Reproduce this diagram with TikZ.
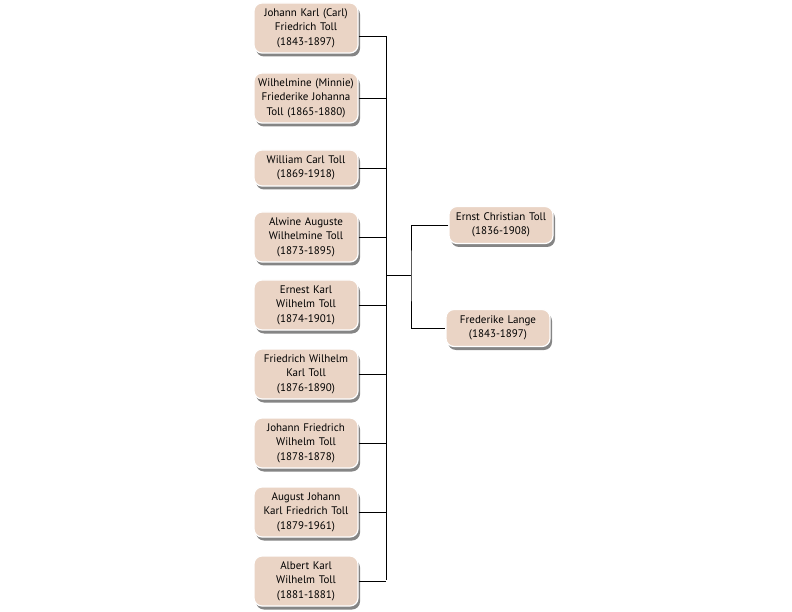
\documentclass[tikz,border=0pt]{standalone}
\usepackage{fontspec}
\setmainfont{PT Sans}
\usetikzlibrary{shadows}
\definecolor{boxfill}{RGB}{234,212,197}

\begin{document}
\begin{tikzpicture}[line width=0.9pt, font=\fontsize{11}{14.5}\selectfont]
\tikzset{
	person/.style={draw=white, line width=1.2pt, rounded corners=8pt, align=center, text width=101pt, minimum width=104pt, inner sep=1.5pt, fill=boxfill,
		drop shadow={shadow xshift=2pt, shadow yshift=-3.5pt, opacity=0.6, fill=black!80}},
	parent/.style={person, minimum height=37pt}
}
\useasboundingbox (0pt,0pt) rectangle (792pt,-612pt);

% Children (left column)
\node[person, minimum height=50pt] (c1) at (306pt,-28pt)
{Johann Karl (Carl)\\Friedrich Toll\\(1843-1897)};
\node[person, minimum height=50pt] (c2) at (306pt,-98pt)
{Wilhelmine (Minnie)\\Friederike Johanna\\Toll (1865-1880)};
\node[person, minimum height=36pt] (c3) at (306pt,-168pt)
{William Carl Toll\\(1869-1918)};
\node[person, minimum height=50pt] (c4) at (306pt,-237pt)
{Alwine Auguste\\Wilhelmine Toll\\(1873-1895)};
\node[person, minimum height=50pt] (c5) at (306pt,-305pt)
{Ernest Karl\\Wilhelm Toll\\(1874-1901)};
\node[person, minimum height=50pt] (c6) at (306pt,-374pt)
{Friedrich Wilhelm\\Karl Toll\\(1876-1890)};
\node[person, minimum height=50pt] (c7) at (306pt,-443pt)
{Johann Friedrich\\Wilhelm Toll\\(1878-1878)};
\node[person, minimum height=50pt] (c8) at (306pt,-512pt)
{August Johann\\Karl Friedrich Toll\\(1879-1961)};
\node[person, minimum height=50pt] (c9) at (306pt,-581pt)
{Albert Karl\\Wilhelm Toll\\(1881-1881)};

% Parents (right column)
\node[parent] (p1) at (501pt,-225pt) {Ernst Christian Toll\\(1836-1908)};
\node[parent] (p2) at (498pt,-328pt) {Frederike Lange\\(1843-1897)};

% Connectors
\coordinate (top) at (386pt,-36pt);
\coordinate (bot) at (386pt,-580pt);
\coordinate (mid) at (386pt,-275pt);
\coordinate (fork) at (411pt,-275pt);
\draw (top) -- (bot);
\draw ([yshift=-8pt]c1.east) -- (top);
\foreach \c in {c2,c3,c4,c5,c6,c7,c8,c9}
	\draw (\c.east) -- (\c.east -| top);
\draw (mid) -- (fork);
\draw (p1.west) -| (fork) |- (p2.west);

\end{tikzpicture}
\end{document}
